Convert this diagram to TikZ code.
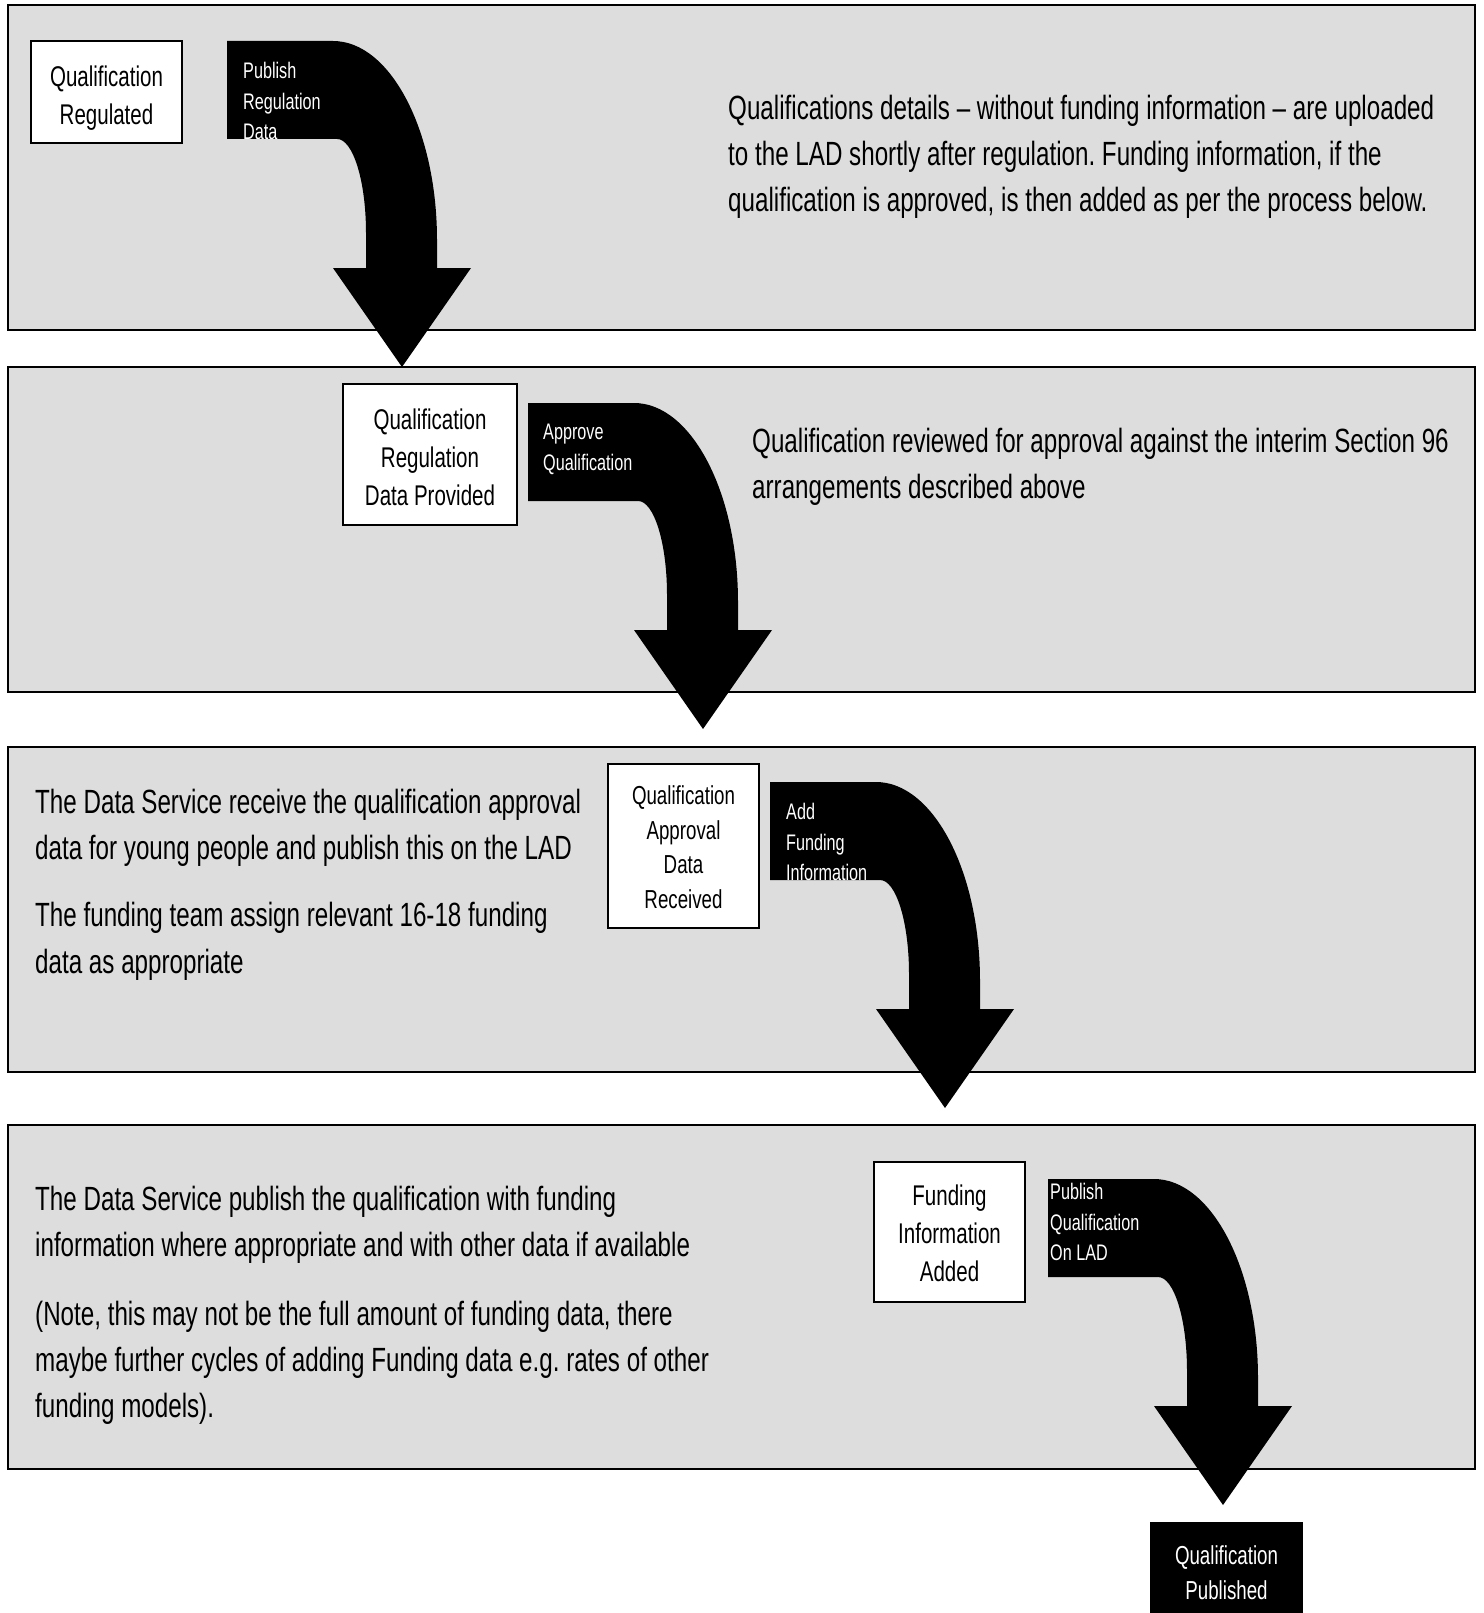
\documentclass[tikz,border=0pt]{standalone}
\usepackage{fontspec}
\setmainfont{Liberation Sans}[FakeStretch=0.72]
\frenchspacing
\definecolor{bandgray}{HTML}{DDDDDD}
% block arrow, top left corner at (0,0)
\newcommand{\bentpath}{(0,0) -- (106,0) .. controls (163,0) and (210,89) .. (210,199) -- (210,227) -- (244,227) -- (175,326) -- (106,227) -- (139,227) -- (139,192) .. controls (139,140) and (126,98) .. (110,98) -- (0,98) -- cycle}
\begin{document}
\begin{tikzpicture}[x=1pt,y=-1pt,
 band/.style={fill=bandgray,draw=black,line width=1.5pt},
 stepbox/.style={draw=black,fill=white,line width=1.5pt,inner sep=0pt},
 boxtext/.style={anchor=north,inner sep=0pt,align=center,font=\fontsize{28.5}{38}\selectfont},
 note/.style={anchor=north west,inner sep=0pt,align=left,font=\fontsize{33.6}{46.3}\selectfont},
 arrowtext/.style={anchor=north west,inner sep=0pt,align=left,text=white,font=\fontsize{22.5}{30.5}\selectfont}]
 \useasboundingbox (0,0) rectangle (1483,1613);
 \draw[band] (8,5) rectangle (1475,330); % <<< band 1
 \draw[band] (8,367) rectangle (1475,692); % <<< band 2
 \draw[band] (8,747) rectangle (1475,1072); % <<< band 3
 \draw[band] (8,1125) rectangle (1475,1469); % <<< band 4
 \node[stepbox,minimum width=151,minimum height=102] (qreg) at (106.5,92) {};
 \node[boxtext] (qregtext) at ([yshift=-25]qreg.north) {Qualification\\Regulated};
 \node[stepbox,minimum width=174,minimum height=141] (qregdata) at (430,454.5) {};
 \node[boxtext] (qregdatatext) at ([yshift=-25.5]qregdata.north) {Qualification\\Regulation\\Data Provided};
 \node[stepbox,minimum width=151,minimum height=164] (qappr) at (683.5,846) {};
 \node[boxtext,font=\fontsize{26}{34.6}\selectfont] (qapprtext) at ([yshift=-22.4]qappr.north) {Qualification\\Approval\\Data\\Received};
 \node[stepbox,minimum width=151,minimum height=140] (fundadded) at (949.5,1232) {};
 \node[boxtext] (fundaddedtext) at ([yshift=-23.5]fundadded.north) {Funding\\Information\\Added};
 \node[stepbox,fill=black,minimum width=151,minimum height=99] (qpub) at (1226.5,1572.5) {};
 \node[boxtext,text=white,font=\fontsize{26}{35}\selectfont] (qpubtext) at ([yshift=-23.4]qpub.north) {Qualification\\Published};
 \begin{scope}[shift={(227,41)}]
 \fill \bentpath;
 \clip (0,0) rectangle (210,98);
 \node[arrowtext] (pubregdata) at (16,21) {Publish\\Regulation\\Data};
 \end{scope}
 \begin{scope}[shift={(528,403)}]
 \fill \bentpath;
 \clip (0,0) rectangle (210,98);
 \node[arrowtext] (approveq) at (15,21) {Approve\\Qualification};
 \end{scope}
 \begin{scope}[shift={(770,782)}]
 \fill \bentpath;
 \clip (0,0) rectangle (210,98);
 \node[arrowtext] (addfund) at (16,21) {Add\\Funding\\Information};
 \end{scope}
 \begin{scope}[shift={(1048,1179)}]
 \fill \bentpath;
 \clip (0,0) rectangle (210,98);
 \node[arrowtext] (pubqlad) at (2,4) {Publish\\Qualification\\On LAD};
 \end{scope}
 \node[note] (regnote) at (728,94.6) {Qualifications details -- without funding information -- are uploaded\\to the LAD shortly after regulation. Funding information, if the\\qualification is approved, is then added as per the process below.};
 \node[note] (approvenote) at (752,427.6) {Qualification reviewed for approval against the interim Section 96\\arrangements described above};
 \node[note] (fundnote) at (35,788.6) {The Data Service receive the qualification approval\\data for young people and publish this on the LAD\\[21pt]The funding team assign relevant 16-18 funding\\data as appropriate};
 \node[note] (publishnote) at (35,1185.6) {The Data Service publish the qualification with funding\\information where appropriate and with other data if available\\[22.5pt](Note, this may not be the full amount of funding data, there\\maybe further cycles of adding Funding data e.g. rates of other\\funding models).};
\end{tikzpicture}
\end{document}
